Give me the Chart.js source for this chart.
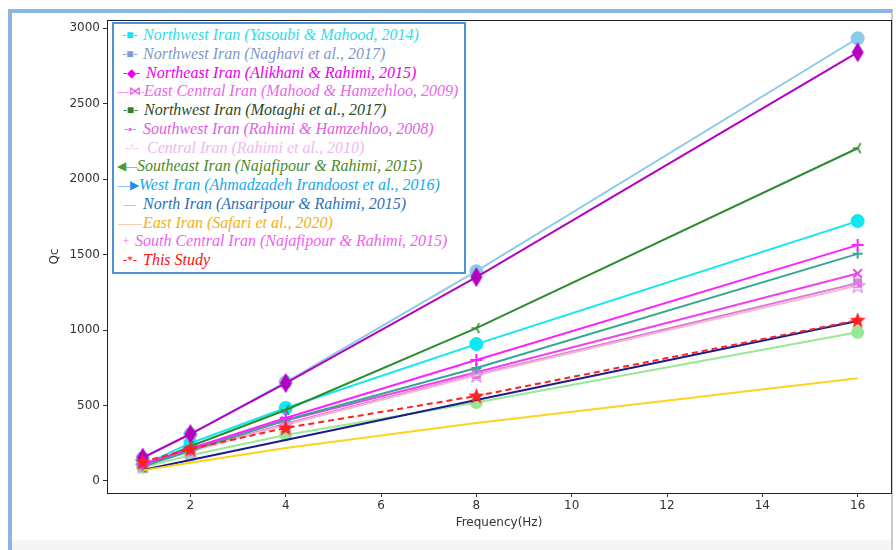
<!DOCTYPE html>
<html>
<head>
<meta charset="utf-8">
<script src="https://cdn.jsdelivr.net/npm/chart.js@4.4.1/dist/chart.umd.min.js"></script>
<style>
body { margin: 0; background: #fff; }
#wrap { position: relative; width: 896px; height: 550px; overflow: hidden; }
#frame { position: absolute; left: 8px; top: 9px; width: 879px; height: 545px;
  border-left: 4px solid #8db4e2; border-top: 4px solid #8db4e2; border-right: 2px solid #c9c9c9; }
#strip { position: absolute; left: 12px; width: 879px; top: 540px; height: 10px; background: #f5f5f5; }
canvas { position: absolute; left: 0; top: 0; }
#legend { position: absolute; left: 112px; top: 22px; width: 347px; height: 246px;
  border: 2px solid #4b93d3; background: #fff; padding: 2px 0 0 3px; box-sizing: content-box;
  font-family: "Liberation Serif", serif; font-style: italic; font-size: 16px; }
.row { height: 18.75px; line-height: 18.75px; white-space: nowrap; }
.mark { display: inline-block; font-style: normal; font-size: 12px; text-align: center; overflow: hidden; vertical-align: top; }
</style>
</head>
<body>
<div id="wrap">
  <div id="frame"></div>
  <div id="strip"></div>
  <canvas id="chart" width="902" height="550"></canvas>
  <div id="legend"></div>
</div>
<script>
// frequencies (Hz)
const freqs = [1, 2, 4, 8, 16];

// Qc values
const yasoubi = [105, 250, 483, 907, 1722];
const naghavi = [150, 310, 655, 1390, 2934];
const alikhani = [155, 311, 649, 1351, 2841];
const mahood = [110, 210, 400, 720, 1375];
const motaghi = [90, 170, 305, 520, 985];
const rahimiHamzehloo = [105, 200, 380, 705, 1311];
const rahimi2010 = [100, 195, 372, 700, 1295];
const najafipourSE = [90, 230, 470, 1013, 2205];
const ahmadzadeh = [95, 200, 404, 748, 1505];
const ansaripour = [73, 139, 271, 536, 1060];
const safari = [70, 120, 218, 384, 680];
const najafipourSC = [110, 215, 417, 801, 1563];
const thisStudy = [126, 212, 351, 563, 1065];

const seriesLabels = [
  "Northwest Iran (Yasoubi & Mahood, 2014)",
  "Northwest Iran (Naghavi et al., 2017)",
  "Northeast Iran (Alikhani & Rahimi, 2015)",
  "East Central Iran (Mahood & Hamzehloo, 2009)",
  "Northwest Iran (Motaghi et al., 2017)",
  "Southwest Iran (Rahimi & Hamzehloo, 2008)",
  "Central Iran (Rahimi et al., 2010)",
  "Southeast Iran (Najafipour & Rahimi, 2015)",
  "West Iran (Ahmadzadeh Irandoost et al., 2016)",
  "North Iran (Ansaripour & Rahimi, 2015)",
  "East Iran (Safari et al., 2020)",
  "South Central Iran (Najafipour & Rahimi, 2015)",
  "This Study"
];
const seriesValues = [yasoubi, naghavi, alikhani, mahood, motaghi, rahimiHamzehloo, rahimi2010,
  najafipourSE, ahmadzadeh, ansaripour, safari, najafipourSC, thisStudy];

const lineColors = ["#10e8f0", "#8ccbe8", "#b400c0", "#f040f0", "#98e898", "#dc74dc", "#f4b8d0",
  "#2e8b2e", "#34a890", "#1c1c8c", "#ffd21c", "#ff20ff", "#ff2020"];
const textColors = ["#30dce6", "#8098c8", "#e800e8", "#e868e8", "#2c4a22", "#e060e0", "#f0b8f0",
  "#4a8a2a", "#18a8e8", "#2a70b8", "#f0b020", "#f060f0", "#ff1010"];
const legendMarks = ["-\u25A0-", "-\u25A0-", "-\u25C6-", "\u2014\u22C8\u2014", "-\u25A0-", "-\u25AA-", "-^-",
  "\u25C0\u2014", "\u2014\u25B6", "\u2014", "\u2014\u2014", "+", "-*-"];
const markColors = ["#20e0f0", "#7e9ccc", "#f000f0", "#e848e8", "#3a7a30", "#e868e8", "#f4c0f0",
  "#4a9a30", "#1e90e8", "#6aa0dc", "#f0a878", "#f070f0", "#ff1010"];
const markWidths = [26, 26, 29, 27, 27, 26, 30, 20, 22, 26, 26, 18, 26];

const yTicks = [0, 500, 1000, 1500, 2000, 2500, 3000];
const xTicks = [2, 4, 6, 8, 10, 12, 14, 16];

// small marker pictures for shapes Chart.js does not have
function marker(shape, color) {
  const c = document.createElement("canvas");
  if (shape === "diamond") { c.width = 14; c.height = 20; }
  else if (shape === "star") { c.width = 17; c.height = 17; }
  else if (shape === "starOutline") { c.width = 16; c.height = 16; }
  else { c.width = 12; c.height = 12; }
  const g = c.getContext("2d");
  g.fillStyle = color;
  g.strokeStyle = color;
  if (shape === "diamond") {
    g.beginPath(); g.moveTo(7, 0); g.lineTo(13, 10); g.lineTo(7, 20); g.lineTo(1, 10); g.closePath(); g.fill();
  } else if (shape === "star") {
    g.beginPath();
    for (let i = 0; i < 10; i++) {
      const r = i % 2 ? 3.6 : 8.5;
      const a = -Math.PI / 2 + i * Math.PI / 5;
      g.lineTo(8.5 + r * Math.cos(a), 9 + r * Math.sin(a));
    }
    g.closePath(); g.fill();
  } else if (shape === "triLeft") {
    g.lineWidth = 1.5;
    g.beginPath();
    g.moveTo(6, 6); g.lineTo(1, 6);
    g.moveTo(6, 6); g.lineTo(9, 1);
    g.moveTo(6, 6); g.lineTo(9, 11);
    g.stroke();
  } else if (shape === "starOutline") {
    g.lineWidth = 1.2;
    g.beginPath();
    for (let i = 0; i < 10; i++) {
      const r = i % 2 ? 3.2 : 7.5;
      const a = -Math.PI / 2 + i * Math.PI / 5;
      g.lineTo(8 + r * Math.cos(a), 8.5 + r * Math.sin(a));
    }
    g.closePath(); g.stroke();
  }
  return c;
}

const pointStyles = ["circle", "circle", marker("diamond", lineColors[2]), "crossRot", "circle", "rect",
  marker("starOutline", "#d890e8"), marker("triLeft", lineColors[7]), "cross", false, false, "cross",
  marker("star", lineColors[12])];
const pointSizes = [6, 6, 8, 6, 5.5, 5, 7, 6, 5, 0, 0, 6, 9];

const datasets = seriesValues.map((vals, i) => ({
  label: seriesLabels[i],
  data: vals.map((v, k) => ({ x: freqs[k], y: v })),
  borderColor: lineColors[i],
  backgroundColor: lineColors[i],
  borderWidth: 2,
  borderDash: i === 12 ? [6, 4] : [],
  pointStyle: pointStyles[i] || "circle",
  pointRadius: pointSizes[i],
  pointHoverRadius: pointSizes[i],
  pointBorderWidth: 2,
  tension: 0,
  fill: false,
  order: seriesValues.length - i
}));

// black box around the plotting area
const axesBox = {
  id: "axesBox",
  afterDraw(chart) {
    const a = chart.chartArea, g = chart.ctx;
    g.save();
    g.strokeStyle = "#222";
    g.lineWidth = 1;
    g.strokeRect(a.left + 0.5, a.top + 0.5, a.right - a.left, a.bottom - a.top);
    g.restore();
  }
};

const tickFont = { family: "DejaVu Sans", size: 12 };

new Chart(document.getElementById("chart").getContext("2d"), {
  type: "line",
  data: { datasets },
  plugins: [axesBox],
  options: {
    responsive: false,
    animation: false,
    layout: { padding: { left: 44, top: 20, right: 1, bottom: 20 } },
    plugins: { legend: { display: false }, tooltip: { enabled: false } },
    scales: {
      x: {
        type: "linear",
        min: 0.25,
        max: 16.7,
        afterBuildTicks: s => { s.ticks = xTicks.map(v => ({ value: v })); },
        afterFit: s => { s.height = 37; },
        ticks: { font: tickFont, color: "#333", padding: 2, maxRotation: 0, callback: v => String(v) },
        grid: { drawOnChartArea: false, tickLength: 4, color: "#333" },
        border: { color: "#222" },
        title: { display: true, text: "Frequency(Hz)", font: tickFont, color: "#333", padding: 0 }
      },
      y: {
        min: -80,
        max: 3055,
        afterBuildTicks: s => { s.ticks = yTicks.map(v => ({ value: v })); },
        afterFit: s => { s.width = 63; },
        ticks: { font: tickFont, color: "#333", padding: 3, callback: v => String(v) },
        grid: { drawOnChartArea: false, tickLength: 4, color: "#333" },
        border: { color: "#222" },
        title: { display: true, text: "Qc", font: tickFont, color: "#333", padding: 4 }
      }
    }
  }
});

// legend box drawn as html
const legend = document.getElementById("legend");
seriesLabels.forEach((label, i) => {
  const row = document.createElement("div");
  row.className = "row";
  const m = document.createElement("span");
  m.className = "mark";
  m.textContent = legendMarks[i];
  m.style.color = markColors[i];
  m.style.width = markWidths[i] + "px";
  const t = document.createElement("span");
  t.textContent = label;
  t.style.color = textColors[i];
  row.appendChild(m);
  row.appendChild(t);
  legend.appendChild(row);
});
</script>
</body>
</html>
